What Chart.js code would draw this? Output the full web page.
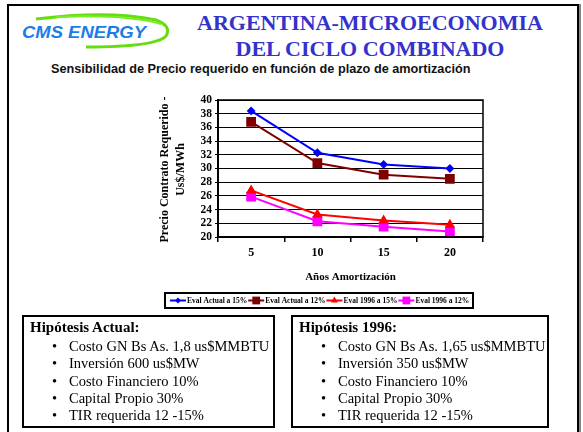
<!DOCTYPE html>
<html>
<head>
<meta charset="utf-8">
<script src="https://cdn.jsdelivr.net/npm/chart.js@4.4.1/dist/chart.umd.min.js"></script>
<style>
	html, body { margin: 0; padding: 0; background: #fff; }
	body { width: 583px; height: 432px; position: relative; overflow: hidden; font-family: 'Liberation Serif', serif; }
	.frame { position: absolute; left: 7px; top: 4px; width: 568px; height: 440px; border: 2px solid #000; box-shadow: 2px 0 0 #888; }
	.title { position: absolute; left: 160px; width: 420px; text-align: center; color: #3333cc; font-weight: bold; font-size: 22px; line-height: 26px; top: 10px; }
	.sub { position: absolute; left: 51px; top: 62px; font-family: 'Liberation Sans', Arial, sans-serif; font-weight: bold; font-size: 12.7px; color: #111; }
	.logo { position: absolute; left: 14px; top: 12px; }
	#wrap { position: absolute; left: 0; top: 80px; width: 583px; height: 240px; }
	.box { position: absolute; top: 315px; height: 109px; border: 2px solid #000; }
	.box h4 { margin: 0; position: absolute; left: 6px; top: 2px; font-size: 15px; font-weight: bold; }
	.box ul { list-style: none; margin: 0; padding: 0; position: absolute; left: 28px; top: 21px; }
	.box li { font-size: 14.5px; line-height: 17.3px; white-space: nowrap; }
	.box li::before { content: '\2022'; display: inline-block; width: 17px; }
</style>
</head>
<body>
<div class="frame"></div>
<svg class="logo" width="160" height="40" viewBox="0 0 160 40">
	<path d="M22 7 Q95 -2 142 8 Q158 14 152 24 Q142 35 72 35" fill="none" stroke="#66dd11" stroke-width="3"/>
	<path d="M42 5 Q112 2 147 12" fill="none" stroke="#77ee22" stroke-width="2"/>
	<text x="8" y="26" font-family="Liberation Sans, Arial" font-style="italic" font-weight="bold" font-size="17" fill="#1a7de8" textLength="124" lengthAdjust="spacingAndGlyphs">CMS ENERGY</text>
</svg>
<div class="title">ARGENTINA-MICROECONOMIA<br>DEL CICLO COMBINADO</div>
<div class="sub">Sensibilidad de Precio requerido en función de plazo de amortización</div>
<div id="wrap"><canvas id="chart"></canvas></div>
<div class="box" style="left:22px;width:249px">
	<h4>Hipótesis Actual:</h4>
	<ul>
		<li>Costo GN Bs As. 1,8 us$MMBTU</li>
		<li>Inversión 600 us$MW</li>
		<li>Costo Financiero 10%</li>
		<li>Capital Propio 30%</li>
		<li>TIR requerida 12 -15%</li>
	</ul>
</div>
<div class="box" style="left:291px;width:254px">
	<h4>Hipótesis 1996:</h4>
	<ul>
		<li>Costo GN Bs As. 1,65 us$MMBTU</li>
		<li>Inversión 350 us$MW</li>
		<li>Costo Financiero 10%</li>
		<li>Capital Propio 30%</li>
		<li>TIR requerida 12 -15%</li>
	</ul>
</div>
<script>
// Precio requerido vs plazo de amortización
const years = ['5', '10', '15', '20'];
const actual15 = [38.4, 32.3, 30.6, 30.0];
const actual12 = [36.8, 30.8, 29.1, 28.5];
const y1996_15 = [26.8, 23.3, 22.4, 21.8];
const y1996_12 = [25.9, 22.3, 21.5, 20.8];
const seriesNames = ['Eval Actual a 15%', 'Eval Actual a 12%', 'Eval 1996 a 15%', 'Eval 1996 a 12%'];

const SERIF = "'Liberation Serif', 'Times New Roman', serif";

function _ds(label, data, color, style, r) {
	return { label, data, borderColor: color, backgroundColor: color, borderWidth: 2, pointStyle: style, pointRadius: r, pointHoverRadius: r, tension: 0 };
}

// plot border, axis titles and boxed legend
const extras = {
	id: 'extras',
	afterDraw(chart) {
		const { ctx, chartArea: a } = chart;
		ctx.save();
		ctx.strokeStyle = '#000';
		ctx.lineWidth = 1.5;
		ctx.strokeRect(a.left, a.top, a.right - a.left, a.bottom - a.top);

		ctx.fillStyle = '#000';
		ctx.font = 'bold 11px ' + SERIF;
		ctx.textAlign = 'center';
		ctx.textBaseline = 'middle';
		ctx.fillText('Años Amortización', (a.left + a.right) / 2, 197);

		ctx.save();
		ctx.translate(165, (a.top + a.bottom) / 2 + 1);
		ctx.rotate(-Math.PI / 2);
		ctx.font = 'bold 12px ' + SERIF;
		ctx.fillText('Precio Contrato Requerido -', 0, 0);
		ctx.translate(0, 16);
		ctx.fillText('Us$/MWh', 0, 0);
		ctx.restore();

		// legend
		const bx = 165, by = 213, bw = 308, bh = 15;
		ctx.lineWidth = 2;
		ctx.strokeRect(bx, by, bw, bh);
		ctx.font = 'bold 7.5px ' + SERIF;
		ctx.textAlign = 'left';
		let x = bx + 5;
		const cy = by + bh / 2;
		chart.data.datasets.forEach(ds => {
			ctx.strokeStyle = ds.borderColor;
			ctx.lineWidth = 2;
			ctx.beginPath(); ctx.moveTo(x, cy); ctx.lineTo(x + 16, cy); ctx.stroke();
			ctx.fillStyle = ds.borderColor;
			Chart.helpers.drawPoint(ctx, { pointStyle: ds.pointStyle, radius: ds.pointRadius, borderWidth: 0, rotation: 0 }, x + 8, cy);
			x += 17;
			ctx.fillStyle = '#000';
			ctx.fillText(ds.label, x, cy + 0.5);
			x += ctx.measureText(ds.label).width + 1;
		});
		ctx.restore();
	}
};

new Chart(document.getElementById('chart'), {
	type: 'line',
	data: {
		labels: years,
		datasets: [
			_ds(seriesNames[0], actual15, '#0000ff', 'rectRot', 3),
			_ds(seriesNames[1], actual12, '#800000', 'rect', 5.5),
			_ds(seriesNames[2], y1996_15, '#ff0000', 'triangle', 4),
			_ds(seriesNames[3], y1996_12, '#ff00ff', 'rect', 5.5),
		]
	},
	options: {
		responsive: true, maintainAspectRatio: false, animation: false,
		layout: { padding: { left: 0, right: 100, top: 20, bottom: 53 } },
		plugins: { legend: { display: false }, tooltip: { enabled: false } },
		scales: {
			x: {
				offset: true,
				afterFit: s => { s.height = 30; },
				grid: { offset: true, drawOnChartArea: false, drawTicks: true, tickLength: 5, color: '#000', lineWidth: 1.5 },
				border: { color: '#000', width: 2 },
				ticks: { color: '#000', padding: 4, font: { family: SERIF, size: 12, weight: 'bold' } }
			},
			y: {
				min: 20, max: 40,
				afterFit: s => { s.width = 218; },
				grid: { color: '#000', lineWidth: 1, tickLength: 3 },
				border: { color: '#000', width: 2 },
				ticks: { stepSize: 2, autoSkip: false, color: '#000', padding: 3, font: { family: SERIF, size: 11.5, weight: 'bold' } }
			}
		}
	},
	plugins: [extras]
});
</script>
</body>
</html>
